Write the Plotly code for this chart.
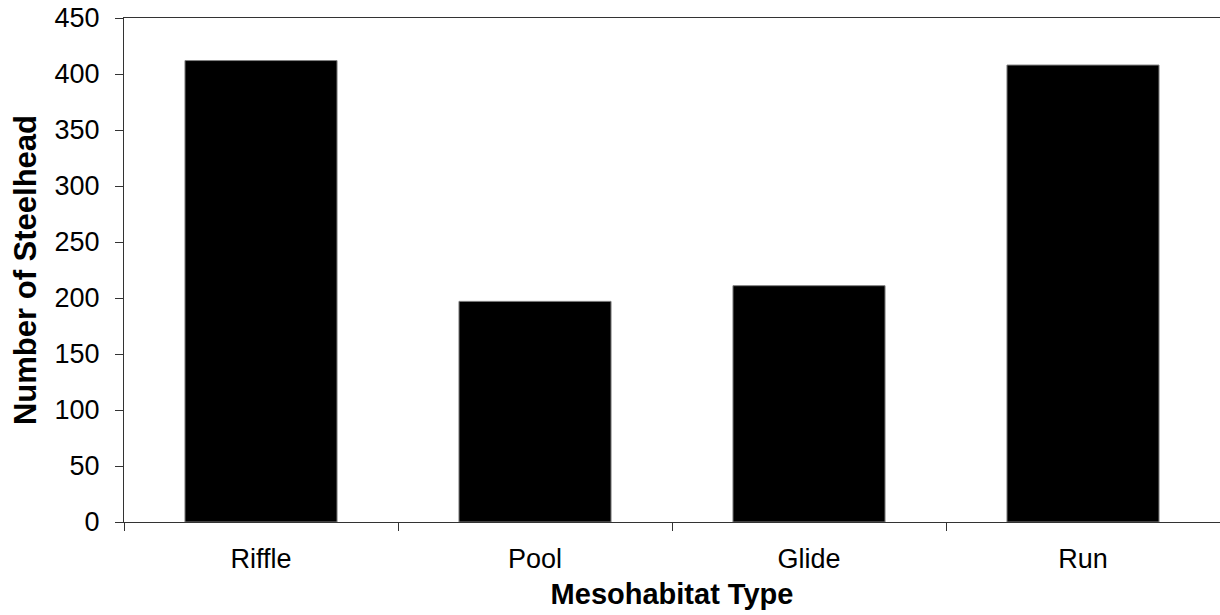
import plotly.graph_objects as go

habitats = ["Riffle", "Pool", "Glide", "Run"]
steelhead = [412, 197, 211, 408]
y_ticks = [0, 50, 100, 150, 200, 250, 300, 350, 400, 450]

fig = go.Figure()
fig.add_trace(go.Bar(
    x=habitats,
    y=steelhead,
    marker=dict(color="black", line=dict(color="#808080", width=1)),
))

axis_font = dict(family="Liberation Sans, Arial, sans-serif", size=27, color="black")

fig.update_xaxes(
    showline=True, linecolor="#333333", linewidth=1, mirror=True,
    ticks="outside", tickson="boundaries", ticklen=8, tickcolor="#333333",
    tickfont=axis_font, ticklabelstandoff=13,
    title=dict(text="<b>Mesohabitat Type</b>",
               font=dict(family="Liberation Sans, Arial, sans-serif", size=29, color="black"),
               standoff=10),
    showgrid=False, automargin=False,
)
fig.update_yaxes(
    range=[0, 450], tickvals=y_ticks,
    showline=True, linecolor="#333333", linewidth=1,
    ticks="outside", ticklen=8, tickcolor="#333333",
    tickfont=axis_font, ticklabelstandoff=10, ticklabeloverflow="allow",
    title=dict(text="<b>Number of Steelhead</b>",
               font=dict(family="Liberation Sans, Arial, sans-serif", size=31, color="black"),
               standoff=8),
    showgrid=False, zeroline=False, automargin=False,
)

fig.update_layout(
    width=1220, height=615,
    margin=dict(l=124, r=0, t=18, b=93),
    bargap=0.445,
    plot_bgcolor="white", paper_bgcolor="white",
    showlegend=False,
)

# drop the default 8px body margin so the figure fills the window
fig.write_html(
    "out.html",
    config={"displayModeBar": False},
    post_script="document.body.style.margin='0';",
)
